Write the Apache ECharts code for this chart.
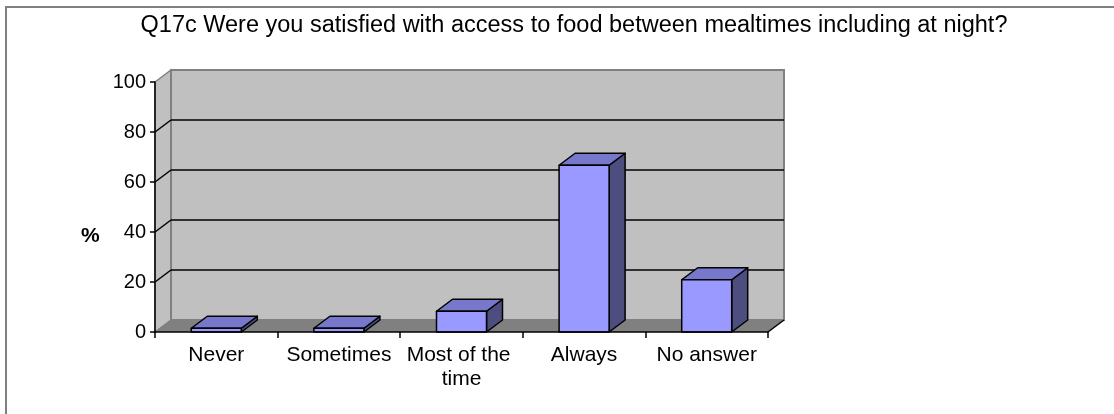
<!DOCTYPE html>
<html>
<head>
<meta charset="utf-8">
<script src="https://cdn.jsdelivr.net/npm/echarts@6/dist/echarts.min.js"></script>
<style>
html,body{margin:0;padding:0;background:#fff;}
#chart{width:1114px;height:414px;}
</style>
</head>
<body>
<div id="chart"></div>
<script>
// ---- data ----
const categories = ['Never', 'Sometimes', 'Most of the time', 'Always', 'No answer'];
const values = [1.5, 1.5, 8.3, 66.7, 20.9];
const yTicks = [0, 20, 40, 60, 80, 100];
const titleText = 'Q17c Were you satisfied with access to food between mealtimes including at night?';
const yName = '%';

// ---- style constants ----
const FONT = "'Liberation Sans', Arial, sans-serif";
const DX = 16, DY = -12;       // 3D depth offset
const BAR_W = 50;
const FRONT = '#9999FF', TOP = '#7777CC', SIDE = '#4D4D80';
const WALL = '#C0C0C0', WALL_EDGE = '#808080', FLOOR = '#808080';

const chart = echarts.init(document.getElementById('chart'), null, {renderer: 'canvas'});

function renderWalls(params, api) {
  const w = api.size([1, 0])[0];
  const p0 = api.coord([0, yTicks[0]]);
  const pEnd = api.coord([categories.length - 1, yTicks[0]]);
  const xL = p0[0] - w / 2, xR = pEnd[0] + w / 2;
  const y0 = p0[1];
  const yT = api.coord([0, yTicks[yTicks.length - 1]])[1];
  const children = [];
  children.push({type: 'polygon', shape: {points: [[xL, y0], [xL, yT], [xL + DX, yT + DY], [xL + DX, y0 + DY]]},
    style: {fill: WALL, stroke: WALL_EDGE, lineWidth: 1.5}});
  children.push({type: 'rect', shape: {x: xL + DX, y: yT + DY, width: xR - xL, height: y0 - yT},
    style: {fill: WALL, stroke: WALL_EDGE, lineWidth: 2}});
  children.push({type: 'polygon', shape: {points: [[xL, y0], [xR, y0], [xR + DX, y0 + DY], [xL + DX, y0 + DY]]},
    style: {fill: FLOOR, stroke: null}});
  children.push({type: 'line', shape: {x1: xR, y1: y0, x2: xR + DX, y2: y0 + DY},
    style: {stroke: '#000', lineWidth: 1.5}});
  yTicks.forEach(function (t, i) {
    if (i === 0 || i === yTicks.length - 1) return;
    const y = api.coord([0, t])[1];
    children.push({type: 'line', shape: {x1: xL + DX, y1: y + DY, x2: xR + DX, y2: y + DY},
      style: {stroke: '#000', lineWidth: 1.5}});
    children.push({type: 'line', shape: {x1: xL, y1: y, x2: xL + DX, y2: y + DY},
      style: {stroke: '#000', lineWidth: 1.5}});
  });
  return {type: 'group', children: children};
}

function renderBar(params, api) {
  const c = api.coord([api.value(0), api.value(1)]);
  const b = api.coord([api.value(0), 0]);
  const x = c[0] - BAR_W / 2, y = c[1], y0 = b[1];
  const st = {stroke: '#000', lineWidth: 1.5, lineJoin: 'round'};
  return {type: 'group', children: [
    {type: 'polygon', shape: {points: [[x + BAR_W, y], [x + BAR_W + DX, y + DY], [x + BAR_W + DX, y0 + DY], [x + BAR_W, y0]]},
      style: Object.assign({fill: SIDE}, st)},
    {type: 'polygon', shape: {points: [[x, y], [x + BAR_W, y], [x + BAR_W + DX, y + DY], [x + DX, y + DY]]},
      style: Object.assign({fill: TOP}, st)},
    {type: 'rect', shape: {x: x, y: y, width: BAR_W, height: y0 - y},
      style: Object.assign({fill: FRONT}, st)}
  ]};
}

const option = {
  backgroundColor: '#fff',
  animation: false,
  title: {
    text: titleText,
    left: 569, top: 9, textAlign: 'center',
    textStyle: {fontFamily: FONT, fontSize: 23.5, fontWeight: 'normal', color: '#000'}
  },
  graphic: [
    {type: 'rect', shape: {x: 6, y: 7, width: 1300, height: 600}, style: {fill: null, stroke: '#808080', lineWidth: 2}, silent: true},
    {type: 'text', left: 81, top: 226, style: {text: yName, font: 'bold 21px ' + FONT, fill: '#000'}}
  ],
  grid: {left: 155, right: 346, top: 82, bottom: 82},
  xAxis: {
    type: 'category', data: categories, boundaryGap: true,
    axisLine: {show: true, lineStyle: {color: '#000', width: 1.5}},
    axisTick: {show: true, length: 6, alignWithLabel: false, lineStyle: {color: '#000', width: 1.5}},
    axisLabel: {fontFamily: FONT, fontSize: 21, color: '#000', margin: 11, width: 118, overflow: 'break', lineHeight: 24, interval: 0},
    splitLine: {show: false}, z: 5
  },
  yAxis: {
    type: 'value', min: 0, max: 100, interval: 20,
    axisLine: {show: true, lineStyle: {color: '#000', width: 1.5}},
    axisTick: {show: true, length: 5, lineStyle: {color: '#000', width: 1.5}},
    axisLabel: {fontFamily: FONT, fontSize: 20, color: '#000', margin: 9},
    splitLine: {show: false}, z: 5
  },
  series: [
    {type: 'custom', name: 'walls', renderItem: renderWalls, data: [[0, 0]], encode: {x: 0, y: 1}, clip: false, silent: true, z: 1},
    {type: 'custom', name: 'bars', renderItem: renderBar, data: values.map(function (v, i) { return [i, v]; }), encode: {x: 0, y: 1}, clip: false, z: 2}
  ]
};
chart.setOption(option);
</script>
</body>
</html>
